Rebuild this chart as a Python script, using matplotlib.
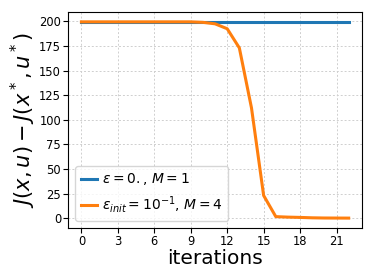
import matplotlib
matplotlib.use("Agg")
import matplotlib.pyplot as plt
import matplotlib.ticker as mticker

iters = list(range(23))
blue = [199.5] * 23
orange = [199.5, 199.5, 199.5, 199.5, 199.5, 199.5, 199.5, 199.5, 199.5, 199.5,
          199.0, 197.5, 192.5, 173.0, 112.0, 23.0, 1.5, 1.0, 0.7, 0.3, 0.1, 0.05, 0.0]

fig, ax = plt.subplots(figsize=(3.74, 2.8), dpi=100)
ax.plot(iters, blue, color="#1f77b4", lw=2.2, label=r"$\epsilon = 0.$, $M = 1$")
ax.plot(iters, orange, color="#ff7f0e", lw=2.2, label=r"$\epsilon_{init} = 10^{-1}$, $M = 4$")
ax.xaxis.set_major_locator(mticker.MultipleLocator(3))
ax.grid(True, ls=(0, (2, 2)), color="#cfcfcf", lw=0.7)
ax.tick_params(labelsize=8.3, pad=1.5)
ax.set_xlabel("iterations", fontsize=14.5, labelpad=1)
ax.set_ylabel(r"$J(x,u) - J(x^*,u^*)$", fontsize=15, labelpad=1)
ax.legend(fontsize=10, loc="lower left", handlelength=1.15, handletextpad=0.4)
fig.subplots_adjust(left=0.182, right=0.968, top=0.957, bottom=0.186)
fig.savefig("out.png")
